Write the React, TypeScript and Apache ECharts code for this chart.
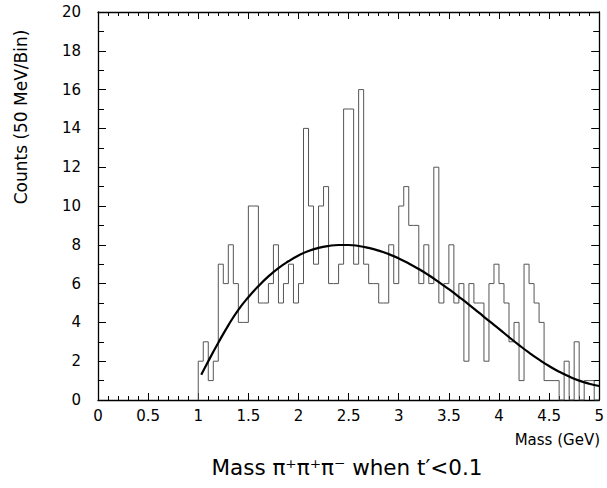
import React, { useEffect, useRef } from "react";
import * as echarts from "echarts";

// Histogram: 50 MeV bins from 1.00 to 5.00 GeV
const binStart = 1.0;
const binWidth = 0.05;
const counts = [
  2, 3, 1, 2, 7, 6, 8, 6, 4, 4,
  10, 10, 5, 5, 6, 8, 5, 6, 7, 5,
  6, 14, 10, 7, 10, 11, 6, 6, 7, 15,
  15, 7, 16, 7, 6, 6, 5, 5, 8, 6,
  10, 11, 9, 9, 6, 8, 6, 12, 5, 6,
  8, 5, 6, 2, 6, 5, 5, 2, 6, 7,
  6, 5, 3, 4, 1, 7, 6, 5, 4, 1,
  1, 1, 0, 2, 0, 3, 0, 1, 1, 0,
];

// Fitted curve
const curveX = [1.03, 1.1, 1.2, 1.3, 1.4, 1.5, 1.6, 1.7, 1.8, 1.9, 2.0, 2.1, 2.2, 2.3, 2.4, 2.5, 2.6, 2.7, 2.8, 2.9, 3.0, 3.1, 3.2, 3.3, 3.4, 3.5, 3.6, 3.7, 3.8, 3.9, 4.0, 4.1, 4.2, 4.3, 4.4, 4.5, 4.6, 4.7, 4.8, 4.9, 5.0];
const curveY = [1.3, 2.0, 2.95, 3.85, 4.65, 5.3, 5.87, 6.37, 6.8, 7.15, 7.45, 7.68, 7.84, 7.94, 7.99, 7.99, 7.94, 7.84, 7.7, 7.52, 7.3, 7.04, 6.75, 6.43, 6.08, 5.71, 5.32, 4.92, 4.5, 4.08, 3.67, 3.24, 2.83, 2.44, 2.08, 1.75, 1.46, 1.21, 1.0, 0.84, 0.72];

const xTitle = "Mass (GeV)";
const yTitle = "Counts (50 MeV/Bin)";
const chartTitle = "Mass π⁺π⁺π⁻ when t′<0.1";

const FONT = "DejaVu Sans";

export default function App() {
  const ref = useRef<HTMLDivElement>(null);
  useEffect(() => {
    if (!ref.current) return;
    const chart = echarts.init(ref.current, null, { renderer: "svg" });

    const histData: number[][] = [[binStart, 0]];
    counts.forEach((c, i) => {
      histData.push([Math.round((binStart + i * binWidth) * 100) / 100, c]);
    });
    const end = Math.round((binStart + counts.length * binWidth) * 100) / 100;
    histData.push([end, counts[counts.length - 1]]);
    histData.push([end, 0]);

    const curveData = curveX.map((x, i) => [x, curveY[i]]);

    const axisLine = { show: true, onZero: false, lineStyle: { color: "#000", width: 1.3 } };
    const xTick = { show: true, inside: true, length: 7, lineStyle: { color: "#000", width: 1 } };
    const xMinor = { show: true, splitNumber: 5, length: 4, lineStyle: { color: "#000", width: 1 } };
    const yTick = { show: true, inside: true, length: 8, lineStyle: { color: "#000", width: 1 } };
    const yMinor = { show: true, splitNumber: 2, length: 6, lineStyle: { color: "#000", width: 1 } };

    chart.setOption({
      animation: false,
      backgroundColor: "#fff",
      grid: { left: 98, right: 7, top: 12, bottom: 88, containLabel: false },
      xAxis: [
        {
          type: "value",
          min: 0,
          max: 5,
          interval: 0.5,
          position: "bottom",
          axisLine,
          axisTick: xTick,
          minorTick: xMinor,
          splitLine: { show: false },
          axisLabel: { color: "#000", fontFamily: FONT, fontSize: 15, margin: 8 },
        },
        {
          type: "value",
          min: 0,
          max: 5,
          interval: 0.5,
          position: "top",
          axisLine,
          axisTick: xTick,
          minorTick: xMinor,
          splitLine: { show: false },
          axisLabel: { show: false },
        },
      ],
      yAxis: [
        {
          type: "value",
          min: 0,
          max: 20,
          interval: 2,
          position: "left",
          axisLine,
          axisTick: yTick,
          minorTick: yMinor,
          splitLine: { show: false },
          axisLabel: { color: "#000", fontFamily: FONT, fontSize: 15, margin: 17 },
        },
        {
          type: "value",
          min: 0,
          max: 20,
          interval: 2,
          position: "right",
          axisLine,
          axisTick: yTick,
          minorTick: yMinor,
          splitLine: { show: false },
          axisLabel: { show: false },
        },
      ],
      series: [
        {
          type: "line",
          step: "end",
          data: histData,
          symbol: "none",
          lineStyle: { color: "#555", width: 1 },
          z: 2,
        },
        {
          type: "line",
          smooth: true,
          data: curveData,
          symbol: "none",
          lineStyle: { color: "#000", width: 2.2 },
          z: 3,
        },
      ],
      graphic: [
        {
          type: "text",
          x: 21,
          y: 117,
          rotation: Math.PI / 2,
          style: {
            text: yTitle,
            fontFamily: FONT,
            fontSize: 17,
            fill: "#000",
            textAlign: "center",
            textVerticalAlign: "middle",
          },
        },
        {
          type: "text",
          x: 600,
          y: 440,
          style: {
            text: xTitle,
            fontFamily: FONT,
            fontSize: 15,
            fill: "#000",
            textAlign: "right",
            textVerticalAlign: "middle",
          },
        },
        {
          type: "text",
          x: 347,
          y: 467,
          style: {
            text: chartTitle,
            fontFamily: FONT,
            fontSize: 21.5,
            fill: "#000",
            textAlign: "center",
            textVerticalAlign: "middle",
          },
        },
      ],
    });
    return () => chart.dispose();
  }, []);
  return (
    <div
      ref={ref}
      style={{ position: "fixed", left: 0, top: 0, width: 607, height: 488, background: "#fff" }}
    />
  );
}
